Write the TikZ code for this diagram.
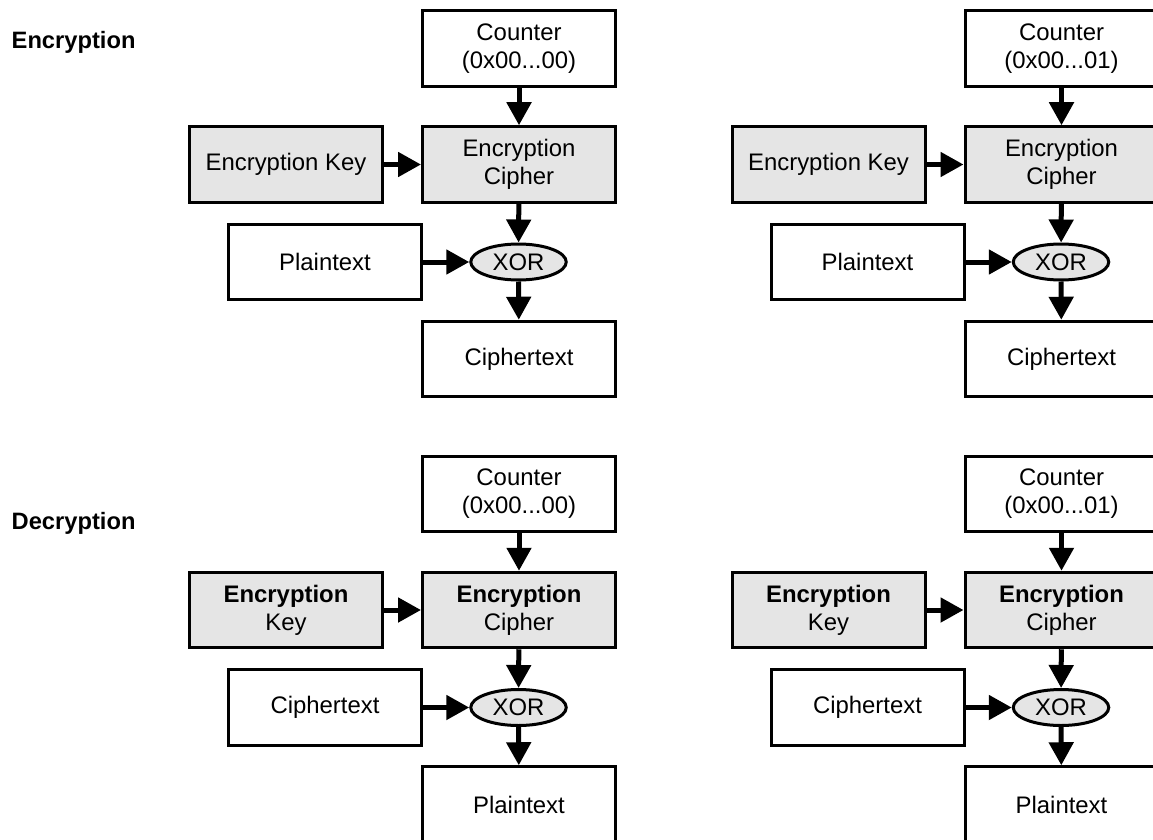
\documentclass[tikz,border=0pt]{standalone}
\usepackage{fontspec}
\setmainfont{Liberation Sans}
\usetikzlibrary{arrows.meta,shapes.geometric}
\tikzset{
  x=1pt, y=-1pt,
  box/.style={draw=black, line width=3pt, minimum width=193pt, minimum height=75.5pt,
    inner sep=0pt, align=center, font=\fontsize{23.9}{28}\selectfont},
  gbox/.style={box, fill=gray!20},
  xorn/.style={ellipse, draw=black, line width=3pt, fill=gray!20, minimum width=95.5pt,
    minimum height=36pt, inner sep=0pt, font=\fontsize{23.9}{28}\selectfont},
  arr/.style={line width=5pt, -{Triangle[length=23pt,width=24pt]}},
  lbl/.style={anchor=base west, inner sep=0pt, font=\fontsize{23.7}{28}\selectfont\bfseries}
}
\newcommand{\ctrpanel}[8]{%
  \begin{scope}[shift={(#2,#3)}]
    \node[box]  (#1ctr) at (519,48.5)  {Counter\\(#4)};
    \node[gbox] (#1enc) at (519,164.5) {#6};
    \node[gbox] (#1key) at (286,164.5) {#5};
    \node[box]  (#1in)  at (325,262)   {#7};
    \node[xorn] (#1xor) at (518.5,262) {XOR};
    \node[box]  (#1out) at (519,359)   {#8};
    \draw[arr] (#1ctr) -- (#1enc);
    \draw[arr] (#1key) -- (#1enc);
    \draw[arr] (#1enc) -- (#1xor);
    \draw[arr] (#1in) -- (#1xor);
    \draw[arr] (#1xor) -- (#1out);
  \end{scope}%
}
\begin{document}
\begin{tikzpicture}
\useasboundingbox (0,0) rectangle (1153,840);
\clip (0,0) rectangle (1153,840);
\node[lbl] (enclbl) at (11.5,48.5) {Encryption};
\node[lbl] (declbl) at (11.5,529) {Decryption};
\ctrpanel{a}{0}{0}{0x00...00}{Encryption Key}{Encryption\\Cipher}{Plaintext}{Ciphertext}
\ctrpanel{b}{542.5}{0}{0x00...01}{Encryption Key}{Encryption\\Cipher}{Plaintext}{Ciphertext}
\ctrpanel{c}{0}{445.5}{0x00...00}{\textbf{Encryption}\\Key}{\textbf{Encryption}\\Cipher}{Ciphertext}{Plaintext}
\ctrpanel{d}{542.5}{445.5}{0x00...01}{\textbf{Encryption}\\Key}{\textbf{Encryption}\\Cipher}{Ciphertext}{Plaintext}
\end{tikzpicture}
\end{document}
